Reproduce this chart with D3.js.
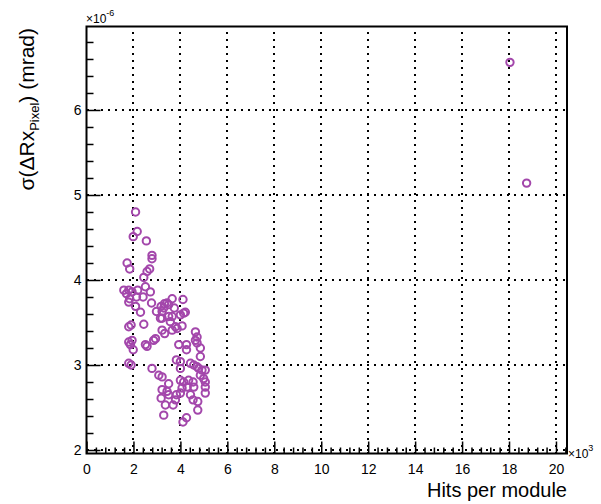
<!DOCTYPE html>
<html><head><meta charset="utf-8">
<script src="https://cdn.jsdelivr.net/npm/d3@7"></script>
<style>
body{margin:0;background:#fff;}
text{font-family:"Liberation Sans",Arial,Helvetica,sans-serif;fill:#000;}
</style></head>
<body>
<svg id="c" width="601" height="504"></svg>
<script>
// Hits per module (x10^3)
const hits = [2.09,2.16,1.99,2.55,2.79,2.79,1.73,1.84,2.69,2.58,2.44,2.51,1.59,1.80,1.70,1.94,2.18,2.13,1.84,2.41,
2.72,2.77,2.98,3.18,3.32,3.65,4.11,3.50,3.22,3.74,2.30,2.09,2.44,1.80,1.90,3.15,3.50,3.57,3.79,4.07,
4.14,4.00,3.33,1.94,2.94,4.64,4.71,1.80,3.43,3.29,4.21,3.65,3.22,3.22,3.65,3.86,4.64,4.71,1.80,1.99,
1.87,2.51,2.58,2.86,3.93,4.26,4.26,4.85,4.85,3.83,4.00,1.80,1.90,2.79,4.00,4.43,4.57,4.71,4.78,4.92,
5.06,4.85,4.99,5.06,5.06,5.06,3.08,3.22,3.50,4.00,4.14,4.35,4.54,4.57,4.29,4.07,4.00,3.83,3.22,3.18,
3.43,3.50,3.79,3.69,3.36,3.29,4.43,4.54,4.74,4.74,4.26,4.11,18.04,18.75];
// sigma (x10^-6)
const sigma = [4.80,4.57,4.51,4.46,4.29,4.25,4.20,4.13,4.13,4.10,4.03,3.92,3.88,3.88,3.84,3.86,3.88,3.80,3.78,3.80,
3.86,3.73,3.63,3.69,3.72,3.78,3.77,3.71,3.63,3.67,3.62,3.69,3.48,3.45,3.47,3.55,3.57,3.51,3.45,3.46,
3.61,3.59,3.37,3.29,3.31,3.39,3.33,3.74,3.73,3.67,3.62,3.57,3.55,3.41,3.41,3.43,3.29,3.26,3.27,3.18,
3.24,3.24,3.22,3.29,3.24,3.24,3.18,3.20,3.10,3.06,3.04,3.02,3.00,2.96,2.96,3.02,3.00,2.98,2.96,2.94,
2.94,2.88,2.84,2.80,2.74,2.67,2.88,2.86,2.78,2.82,2.80,2.82,2.80,2.74,2.74,2.73,2.67,2.65,2.71,2.61,
2.69,2.65,2.59,2.53,2.53,2.41,2.65,2.59,2.57,2.47,2.38,2.33,6.56,5.14];
const xTicks = [0,2,4,6,8,10,12,14,16,18,20];
const yTicks = [2,3,4,5,6];
const xTitle = "Hits per module";

const svg = d3.select("#c");
const L=86.5, R=567, T=26.5, B=453.5;
const x = d3.scaleLinear().domain([0,20.47]).range([L,R]);
const y = d3.scaleLinear().domain([1.959,6.982]).range([B,T]);

// grid
const grid = svg.append("g").attr("stroke","#000").attr("stroke-width",2)
  .attr("stroke-dasharray","2 5").attr("shape-rendering","crispEdges");
grid.selectAll(".gx").data(xTicks.filter(d=>d>0)).join("line")
  .attr("x1",d=>Math.round(x(d))).attr("x2",d=>Math.round(x(d))).attr("y1",B).attr("y2",T);
grid.selectAll(".gy").data(yTicks).join("line")
  .attr("x1",L).attr("x2",R).attr("y1",d=>Math.round(y(d))).attr("y2",d=>Math.round(y(d)));

// minor ticks
const xMinor = d3.range(0,20.5,0.4).map(v=>+v.toFixed(2)).filter(v=>xTicks.indexOf(v)<0 && v<=20.47);
const yMinor = d3.range(2,7,0.2).map(v=>+v.toFixed(2)).filter(v=>yTicks.indexOf(v)<0 && v<=6.98);

const xAxis = d3.axisBottom(x).tickValues(xTicks).tickSize(-12).tickPadding(20).tickFormat(d3.format("d"));
const gx = svg.append("g").attr("transform",`translate(0,${B})`).call(xAxis);
gx.select(".domain").remove();
gx.selectAll(".tick line").attr("stroke-width",1.5);
gx.selectAll("text").attr("font-size",14).attr("font-family","Liberation Sans, Arial, sans-serif").attr("dy","0");
const gxm = svg.append("g").attr("transform",`translate(0,${B})`).call(d3.axisBottom(x).tickValues(xMinor).tickSize(-6).tickFormat(""));
gxm.select(".domain").remove();
gxm.selectAll(".tick line").attr("stroke-width",1.5);

const yAxis = d3.axisLeft(y).tickValues(yTicks).tickSize(-14).tickPadding(5).tickFormat(d3.format("d"));
const gy = svg.append("g").attr("transform",`translate(${L},0)`).call(yAxis);
gy.select(".domain").remove();
gy.selectAll(".tick line").attr("stroke-width",1.5);
gy.selectAll("text").attr("font-size",14).attr("font-family","Liberation Sans, Arial, sans-serif");
const gym = svg.append("g").attr("transform",`translate(${L},0)`).call(d3.axisLeft(y).tickValues(yMinor).tickSize(-7).tickFormat(""));
gym.select(".domain").remove();
gym.selectAll(".tick line").attr("stroke-width",1.5);

// frame
svg.append("rect").attr("x",L).attr("y",T).attr("width",R-L).attr("height",B-T)
  .attr("fill","none").attr("stroke","#000").attr("stroke-width",2);

// points
svg.append("g").selectAll("circle").data(hits.map((h,i)=>[h,sigma[i]])).join("circle")
  .attr("cx",d=>x(d[0])).attr("cy",d=>y(d[1])).attr("r",3.7)
  .attr("fill","none").attr("stroke","#a347ab").attr("stroke-width",2);

// exponent labels
const e1 = svg.append("text").attr("x",86).attr("y",23).attr("font-size",12);
e1.append("tspan").text("×10");
e1.append("tspan").attr("font-size",9).attr("dy",-7).text("-6");
const e2 = svg.append("text").attr("x",568).attr("y",458).attr("font-size",12);
e2.append("tspan").text("×10");
e2.append("tspan").attr("font-size",9).attr("dy",-7).text("3");

// titles
svg.append("text").attr("x",R).attr("y",497).attr("text-anchor","end").attr("font-size",20).text(xTitle);
const yt = svg.append("text").attr("transform","translate(34,28) rotate(-90)").attr("text-anchor","end").attr("font-size",21);
yt.append("tspan").text("σ(ΔRx");
yt.append("tspan").attr("font-size",13).attr("dy",5).text("Pixel");
yt.append("tspan").attr("dy",-5).text(") (mrad)");
</script>
</body></html>
